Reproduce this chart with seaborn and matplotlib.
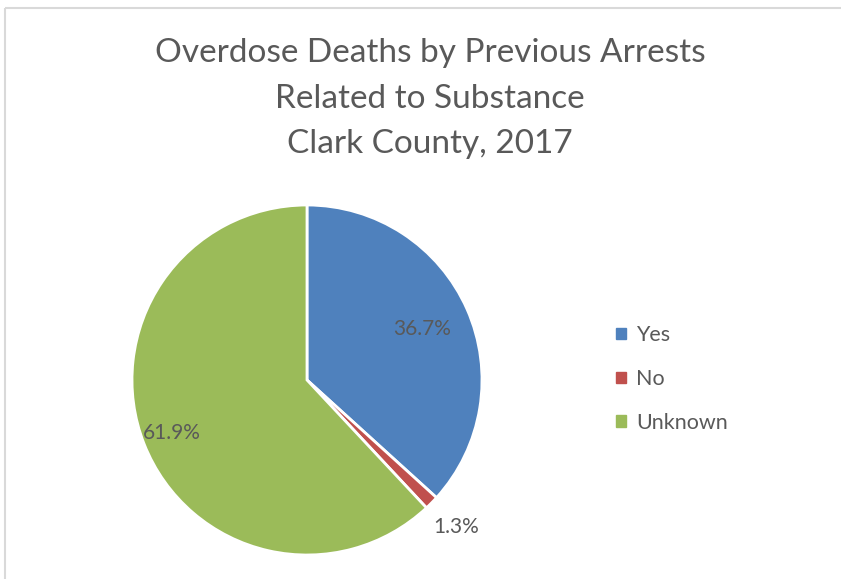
import matplotlib
matplotlib.use("Agg")
import matplotlib.pyplot as plt
import seaborn as sns
import numpy as np
from matplotlib.patches import Rectangle

sns.set_theme(style="white")
plt.rcParams['font.family'] = ['Lato', 'DejaVu Sans']

categories = ["Yes", "No", "Unknown"]
values = [36.7, 1.3, 61.9]
value_labels = ["36.7%", "1.3%", "61.9%"]
title_lines = ["Overdose Deaths by Previous Arrests", "Related to Substance", "Clark County, 2017"]

colors = ["#4F81BD", "#C0504D", "#9BBB59"]
label_dist = [0.72, 1.2, 0.83]
text_color = "#595959"

fig = plt.figure(figsize=(8.41, 5.79), dpi=100)
fig.patch.set_facecolor("white")

# outer frame (top and left)
fig.add_artist(plt.Line2D([5/841, 1.02], [1 - 8/579, 1 - 8/579], transform=fig.transFigure,
                          color="#D9D9D9", lw=1.5, solid_capstyle="butt"))
fig.add_artist(plt.Line2D([5/841, 5/841], [-0.02, 1 - 8/579], transform=fig.transFigure,
                          color="#D9D9D9", lw=1.5, solid_capstyle="butt"))

ax = fig.add_axes([(307 - 175) / 841, (579 - 380 - 175) / 579, 350 / 841, 350 / 579])
wedges, _ = ax.pie(values, colors=colors, startangle=90, counterclock=False, radius=1,
                   wedgeprops=dict(edgecolor="white", linewidth=2))
ax.set_xlim(-1, 1)
ax.set_ylim(-1, 1)
ax.set_aspect("equal")
ax.axis("off")

for w, lab, d in zip(wedges, value_labels, label_dist):
    ang = np.deg2rad((w.theta1 + w.theta2) / 2)
    ax.text(d * np.cos(ang), d * np.sin(ang), lab, ha="center", va="center",
            fontsize=15, color=text_color)

for i, line in enumerate(title_lines):
    fig.text(430 / 841, 1 - (53 + 45.5 * i) / 579, line, ha="center", va="center",
             fontsize=24, color=text_color)

handles = [Rectangle((0, 0), 1, 1, color=c) for c in colors]
fig.legend(handles, categories, loc="center left", bbox_to_anchor=(597 / 841, 1 - 379 / 579),
           frameon=False, fontsize=15.5, labelcolor=text_color, handlelength=0.45, handleheight=0.45,
           handletextpad=0.45, labelspacing=1.1)

fig.savefig("out.png", dpi=100, facecolor="white")
